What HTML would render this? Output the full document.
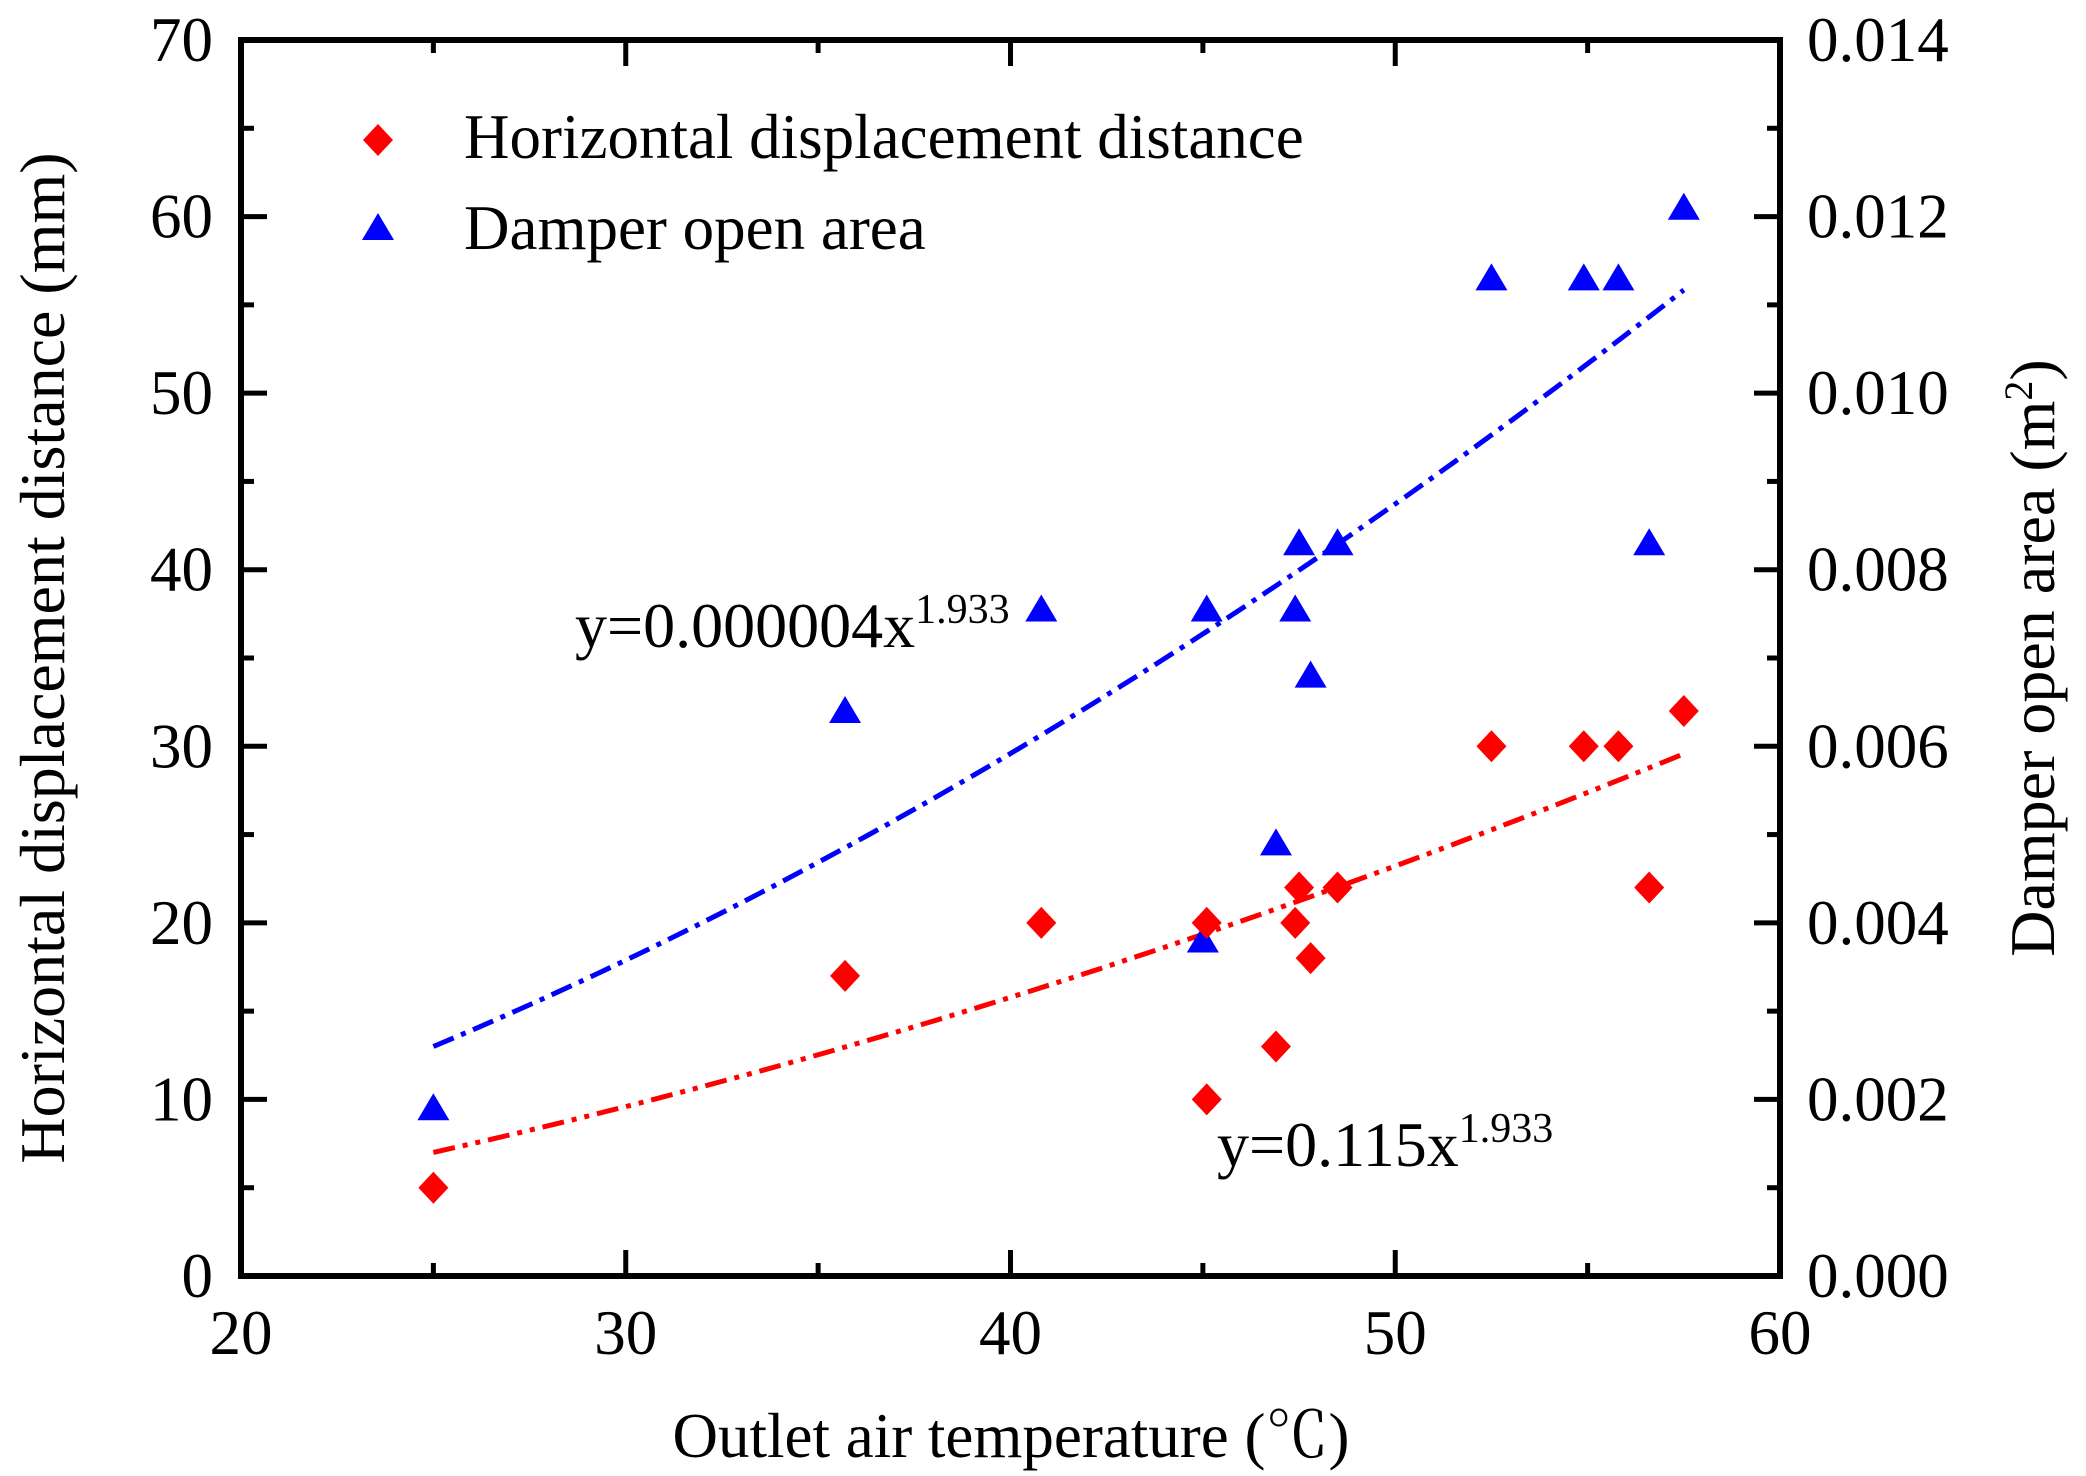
<!DOCTYPE html>
<html><head><meta charset="utf-8"><style>
html,body{margin:0;padding:0;background:#fff}
svg{display:block;font-family:"Liberation Serif",serif}
</style></head><body>
<svg id="chart" width="2086" height="1476" viewBox="0 0 2086 1476">
<g id="fits"></g>
<g id="marks"></g>
<g id="axes"></g>
<g>
  <polygon points="378,124 393,140 378,156 363,140" fill="#ff0000"/>
  <text x="464" y="158" font-size="63">Horizontal displacement distance</text>
  <polygon points="378,213 394,240 362,240" fill="#0000ff"/>
  <text x="464" y="249" font-size="63">Damper open area</text>
</g>
<text x="575" y="647" font-size="64">y=0.000004x<tspan font-size="42" dy="-24">1.933</tspan></text>
<text x="1217" y="1166" font-size="64">y=0.115x<tspan font-size="42" dy="-24">1.933</tspan></text>
<text x="1011" y="1457" font-size="63" text-anchor="middle">Outlet air temperature (<tspan font-family="Noto Serif CJK SC, serif">℃</tspan>)</text>
<text transform="translate(64,658) rotate(-90)" font-size="64" text-anchor="middle">Horizontal displacement distance (mm)</text>
<text transform="translate(2054,658) rotate(-90)" font-size="64" text-anchor="middle">Damper open area (m<tspan font-size="40" dy="-22">2</tspan><tspan dy="22">)</tspan></text>
</svg>
<script>
const xTicks=[20,30,40,50,60];
const yLeftTicks=[0,10,20,30,40,50,60,70];
const yRightLabels=["0.000","0.002","0.004","0.006","0.008","0.010","0.012","0.014"];
const dispX=[25,35.7,40.8,45.1,45.1,46.9,47.4,47.5,47.8,48.5,52.5,54.9,55.8,56.6,57.5];
const dispY=[5,17,20,10,20,13,20,22,18,22,30,30,30,22,32];
const areaX=[25,35.7,40.8,45.1,45.0,46.9,47.4,47.5,47.8,48.5,52.5,54.9,55.8,56.6,57.5];
const areaY=[0.0019,0.0064,0.00755,0.00755,0.0038,0.0049,0.00755,0.0083,0.0068,0.0083,0.0113,0.0113,0.0113,0.0083,0.0121];
const dispFit=[7,1.73];   // value at x=25, exponent
const areaFit=[0.0026,1.75];
const fitRange=[25,57.5];

const NS="http://www.w3.org/2000/svg";
const L=241,R=1780,T=40,B=1276;
const sx=v=>L+(v-20)/40*(R-L);
const syL=v=>B-v/70*(B-T);
const syR=v=>B-v/0.014*(B-T);
function mk(tag,attrs,parent){const e=document.createElementNS(NS,tag);for(const k in attrs)e.setAttribute(k,attrs[k]);parent.appendChild(e);return e;}
const axes=document.getElementById('axes'),marks=document.getElementById('marks'),fits=document.getElementById('fits');

const fr=mk('rect',{x:L,y:T,width:R-L,height:B-T,fill:'none',stroke:'#000','stroke-width':6},axes);



xTicks.forEach((v,i)=>{
  const x=sx(v);
  mk('line',{x1:x,y1:B,x2:x,y2:B-26,stroke:'#000','stroke-width':5},axes);
  mk('line',{x1:x,y1:T,x2:x,y2:T+26,stroke:'#000','stroke-width':5},axes);
  if(i<xTicks.length-1){const m=sx(v+5);
    mk('line',{x1:m,y1:B,x2:m,y2:B-13,stroke:'#000','stroke-width':5},axes);
    mk('line',{x1:m,y1:T,x2:m,y2:T+13,stroke:'#000','stroke-width':5},axes);}
  const t=mk('text',{x:x,y:1354,'font-size':63,'text-anchor':'middle'},axes);
  t.textContent=v;
  
  
});
yLeftTicks.forEach((v,i)=>{
  const y=syL(v);
  mk('line',{x1:L,y1:y,x2:L+26,y2:y,stroke:'#000','stroke-width':5},axes);
  mk('line',{x1:R,y1:y,x2:R-26,y2:y,stroke:'#000','stroke-width':5},axes);
  if(i<yLeftTicks.length-1){const m=syL(v+5);
    mk('line',{x1:L,y1:m,x2:L+13,y2:m,stroke:'#000','stroke-width':5},axes);
    mk('line',{x1:R,y1:m,x2:R-13,y2:m,stroke:'#000','stroke-width':5},axes);}
  const t=mk('text',{x:213,y:y+21,'font-size':63,'text-anchor':'end'},axes);
  t.textContent=v;
  
  
  const t2=mk('text',{x:1807,y:y+21,'font-size':63},axes);
  t2.textContent=yRightLabels[i];
  
  
});

function fitPath(fit,sy){
  let d='';
  for(let k=0;k<=60;k++){const x=fitRange[0]+(fitRange[1]-fitRange[0])*k/60;
    const y=fit[0]*Math.pow(x/fitRange[0],fit[1]);
    d+=(k?'L':'M')+sx(x).toFixed(1)+','+sy(y).toFixed(1);}
  return d;
}
const fb=mk('path',{d:fitPath(areaFit,syR),fill:'none',stroke:'#0000ff','stroke-width':5,'stroke-dasharray':'22 8 5 8'},fits);


const fred=mk('path',{d:fitPath(dispFit,syL),fill:'none',stroke:'#ff0000','stroke-width':5,'stroke-dasharray':'22 8 5 8 5 8'},fits);



areaX.forEach((x,i)=>{
  const cx=sx(x),cy=syR(areaY[i]);
  const p=mk('polygon',{points:`${cx},${cy-15} ${cx+16},${cy+12} ${cx-16},${cy+12}`,fill:'#0000ff'},marks);
  
  
});
dispX.forEach((x,i)=>{
  const cx=sx(x),cy=syL(dispY[i]);
  const p=mk('polygon',{points:`${cx},${cy-16} ${cx+15},${cy} ${cx},${cy+16} ${cx-15},${cy}`,fill:'#ff0000'},marks);
  
  
});
</script>
</body></html>
